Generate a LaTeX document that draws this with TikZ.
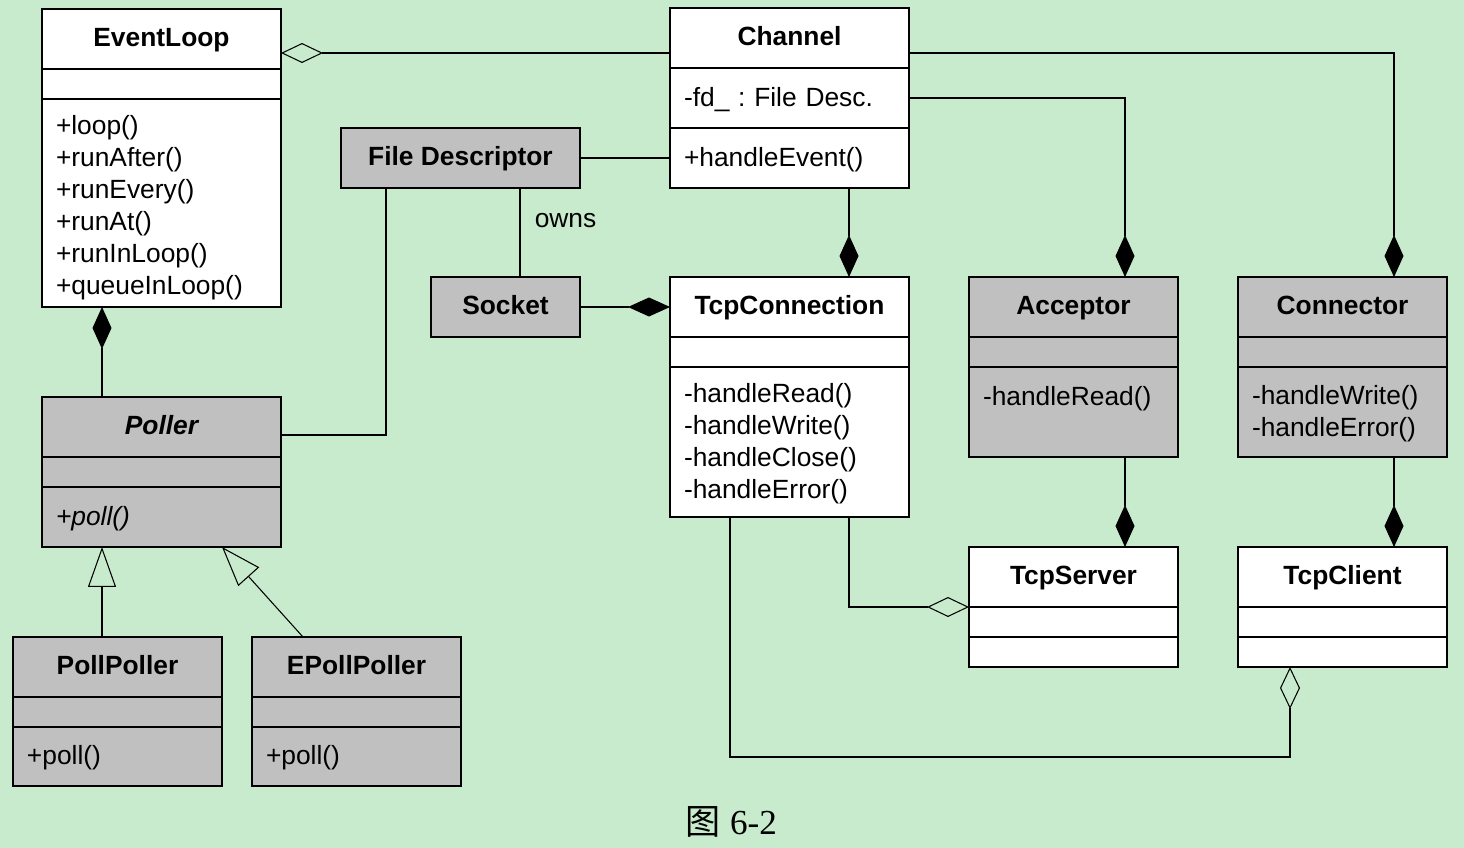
\documentclass[tikz,border=0pt]{standalone}
\usepackage{fontspec}
\setmainfont{Liberation Sans}
\newfontfamily\cjk{Noto Sans CJK SC}
\newfontfamily\capfont{Liberation Serif}
\usetikzlibrary{positioning,arrows.meta}
\definecolor{bgcol}{RGB}{199,235,204}
\definecolor{umlgray}{RGB}{192,192,192}
\newlength\pxu
\setlength\pxu{0.02cm}
\tikzset{
  umlbox/.style={draw, line width=0.8pt, inner sep=0pt, outer sep=0pt, minimum width=#1\pxu},
  headbox/.style={umlbox=#1, minimum height=60\pxu, font=\bfseries, text height=10.5pt, text depth=1.8pt},
  listbox/.style={umlbox=#1, inner xsep=14\pxu, text width=\dimexpr#1\pxu-28\pxu\relax, align=left,
    execute at begin node=\rule{0pt}{12.5pt}, execute at end node=\rule[-1.4pt]{0pt}{1.4pt}},
  link/.style={line width=0.6pt},
  comp/.style={link, -{Diamond[length=0.84cm,width=0.38cm]}},
  agg/.style={link, -{Diamond[open,length=0.84cm,width=0.4cm]}},
  inh/.style={link, -{Triangle[open,length=0.8cm,width=0.56cm]}}
}
\begin{document}
\frenchspacing
\fontsize{15}{18.15}\selectfont
\begin{tikzpicture}[x=\pxu, y=-\pxu]
  \fill[bgcol] (0,0) rectangle (1464,848);

  % EventLoop
  \node[headbox=239, fill=white, anchor=north west] (loop) at (42,9) {EventLoop};
  \node[umlbox=239, fill=white, minimum height=30\pxu, below=0pt of loop] (loop-a) {};
  \node[listbox=239, fill=white, minimum height=208\pxu, below=0pt of loop-a,
    execute at begin node=\rule{0pt}{16pt}] (loop-o)
    {+loop()\\+runAfter()\\+runEvery()\\+runAt()\\+runInLoop()\\+queueInLoop()};

  % Channel
  \node[headbox=239, fill=white, anchor=north west] (chan) at (670,8) {Channel};
  \node[listbox=239, fill=white, minimum height=60\pxu, below=0pt of chan] (chan-a) {-fd\_ : File Desc.};
  \node[listbox=239, fill=white, minimum height=60\pxu, below=0pt of chan-a] (chan-o) {+handleEvent()};

  % File Descriptor and Socket
  \node[headbox=239, fill=umlgray, anchor=north west] (fd) at (341,128) {File Descriptor};
  \node[headbox=149, fill=umlgray, anchor=north west] (sock) at (431,277) {Socket};

  % TcpConnection
  \node[headbox=239, fill=white, anchor=north west] (conn) at (670,277) {TcpConnection};
  \node[umlbox=239, fill=white, minimum height=30\pxu, below=0pt of conn] (conn-a) {};
  \node[listbox=239, fill=white, minimum height=150\pxu, below=0pt of conn-a] (conn-o)
    {-handleRead()\\-handleWrite()\\-handleClose()\\-handleError()};

  % Acceptor
  \node[headbox=209, fill=umlgray, anchor=north west] (acc) at (969,277) {Acceptor};
  \node[umlbox=209, fill=umlgray, minimum height=30\pxu, below=0pt of acc] (acc-a) {};
  \node[listbox=209, fill=umlgray, minimum height=90\pxu, below=0pt of acc-a] (acc-o)
    {-handleRead()\\\mbox{}};

  % Connector
  \node[headbox=209, fill=umlgray, anchor=north west] (ctor) at (1238,277) {Connector};
  \node[umlbox=209, fill=umlgray, minimum height=30\pxu, below=0pt of ctor] (ctor-a) {};
  \node[listbox=209, fill=umlgray, minimum height=90\pxu, below=0pt of ctor-a] (ctor-o)
    {-handleWrite()\\-handleError()};

  % Poller
  \node[headbox=239, fill=umlgray, font=\bfseries\itshape, anchor=north west] (poll) at (42,397) {Poller};
  \node[umlbox=239, fill=umlgray, minimum height=30\pxu, below=0pt of poll] (poll-a) {};
  \node[listbox=239, fill=umlgray, font=\itshape, minimum height=60\pxu, below=0pt of poll-a] (poll-o) {+poll()};

  % PollPoller
  \node[headbox=209, fill=umlgray, anchor=north west] (ppoll) at (13,637) {PollPoller};
  \node[umlbox=209, fill=umlgray, minimum height=30\pxu, below=0pt of ppoll] (ppoll-a) {};
  \node[listbox=209, fill=umlgray, minimum height=59\pxu, below=0pt of ppoll-a] (ppoll-o) {+poll()};

  % EPollPoller
  \node[headbox=209, fill=umlgray, anchor=north west] (epoll) at (252,637) {EPollPoller};
  \node[umlbox=209, fill=umlgray, minimum height=30\pxu, below=0pt of epoll] (epoll-a) {};
  \node[listbox=209, fill=umlgray, minimum height=59\pxu, below=0pt of epoll-a] (epoll-o) {+poll()};

  % TcpServer
  \node[headbox=209, fill=white, anchor=north west] (srv) at (969,547) {TcpServer};
  \node[umlbox=209, fill=white, minimum height=30\pxu, below=0pt of srv] (srv-a) {};
  \node[umlbox=209, fill=white, minimum height=30\pxu, below=0pt of srv-a] (srv-o) {};

  % TcpClient
  \node[headbox=209, fill=white, anchor=north west] (cli) at (1238,547) {TcpClient};
  \node[umlbox=209, fill=white, minimum height=30\pxu, below=0pt of cli] (cli-a) {};
  \node[umlbox=209, fill=white, minimum height=30\pxu, below=0pt of cli-a] (cli-o) {};

  % Links
  \draw[agg] (chan.west |- 0,53) -- (loop.east |- 0,53);
  \draw[link] (fd.east) -- (chan-o.west);
  \draw[link] (fd.south -| 520,0) -- (sock.north -| 520,0)
    node[pos=0.36, anchor=west, xshift=0.11cm] (owns) {owns};
  \draw[comp] (sock.east) -- (conn.west);
  \draw[comp] (chan-o.south -| 849,0) -- (conn.north -| 849,0);
  \draw[comp] (chan-a.east) -| (acc.north -| 1125,0);
  \draw[comp] (chan.east |- 0,53) -| (ctor.north -| 1394,0);
  \draw[comp] (poll.north -| 102,0) -- (loop-o.south -| 102,0);
  \draw[link] (fd.south -| 386,0) |- (poll.east |- 0,435);
  \draw[inh] (ppoll.north -| 102,0) -- (poll-o.south -| 102,0);
  \draw[inh] (epoll.north -| 303,0) -- (poll-o.south -| 222,0);
  \draw[comp] (acc-o.south -| 1125,0) -- (srv.north -| 1125,0);
  \draw[comp] (ctor-o.south -| 1394,0) -- (cli.north -| 1394,0);
  \draw[agg] (conn-o.south -| 849,0) |- (srv.south west);
  \coordinate (bend) at (1290,757);
  \draw[agg] (conn-o.south -| 730,0) |- (bend) -- (cli-o.south -| bend);

  % Caption
  \node (fig) at (731,822) {\fontsize{20}{24}\selectfont{\cjk 图} {\capfont 6-2}};
\end{tikzpicture}
\end{document}
